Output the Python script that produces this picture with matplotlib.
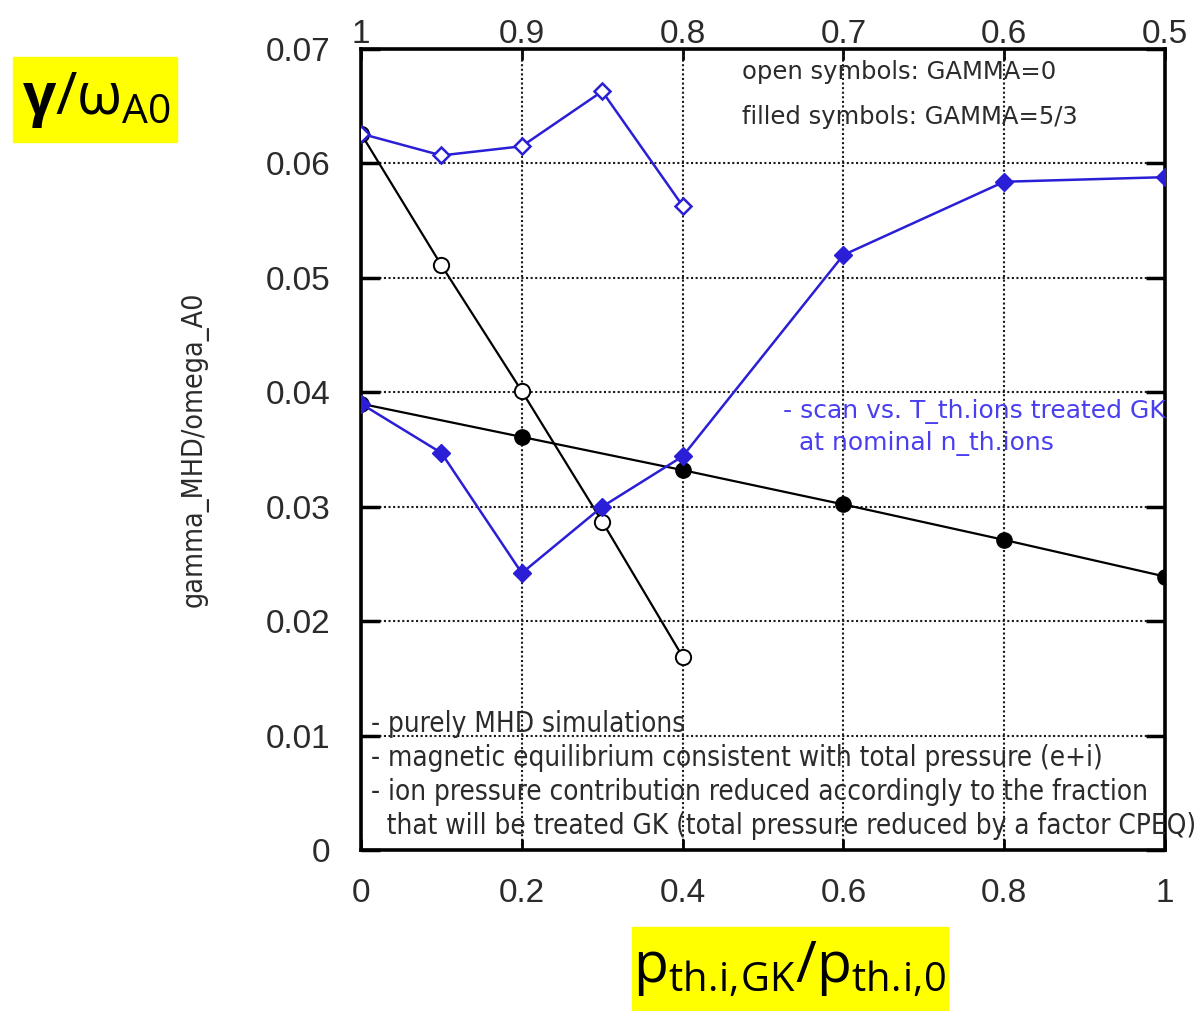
import matplotlib
matplotlib.use('Agg')
import matplotlib.pyplot as plt
from matplotlib.patches import Rectangle

# Growth rate scans vs. fraction of thermal ion pressure treated GK
frac_open = [0.0, 0.1, 0.2, 0.3, 0.4]
scanT_open = [0.0626, 0.0607, 0.0615, 0.0663, 0.0563]
mhd_open = [0.0626, 0.0511, 0.0401, 0.0287, 0.0169]

frac_scan_filled = [0.0, 0.1, 0.2, 0.3, 0.4, 0.6, 0.8, 1.0]
scanT_filled = [0.0390, 0.0347, 0.0242, 0.0300, 0.0344, 0.0520, 0.0584, 0.0588]

frac_mhd_filled = [0.0, 0.2, 0.4, 0.6, 0.8, 1.0]
mhd_filled = [0.0390, 0.0361, 0.0332, 0.0302, 0.0271, 0.0239]

xticks = [0, 0.2, 0.4, 0.6, 0.8, 1.0]
xtick_labels = ['0', '0.2', '0.4', '0.6', '0.8', '1']
top_ticks = [1.0, 0.9, 0.8, 0.7, 0.6, 0.5]
top_labels = ['1', '0.9', '0.8', '0.7', '0.6', '0.5']
yticks = [0, 0.01, 0.02, 0.03, 0.04, 0.05, 0.06, 0.07]
ytick_labels = ['0', '0.01', '0.02', '0.03', '0.04', '0.05', '0.06', '0.07']

BLUE = '#2a1fd6'
TXT = '#2b2b2b'
TICKFONT = 'Liberation Sans'

plt.rcParams['mathtext.fontset'] = 'custom'
plt.rcParams['mathtext.rm'] = 'Open Sans'
plt.rcParams['mathtext.it'] = 'Open Sans'
plt.rcParams['mathtext.bf'] = 'Open Sans:bold'

fig = plt.figure(figsize=(11.94, 10.11), dpi=100)
ax = fig.add_axes([361 / 1194, 1 - 850 / 1011, 804 / 1194, 801 / 1011])

# blue: scan vs T_th.ions
ax.plot(frac_scan_filled, scanT_filled, color=BLUE, lw=1.8, marker='D', ms=9,
        mfc=BLUE, mec=BLUE, zorder=4)
ax.plot(frac_open, scanT_open, color=BLUE, lw=1.8, marker='D', ms=8,
        mfc='white', mec=BLUE, mew=1.8, zorder=4)
# black: purely MHD
ax.plot(frac_mhd_filled, mhd_filled, color='black', lw=1.6, marker='o', ms=11,
        mfc='black', mec='black', zorder=3)
ax.plot(frac_open, mhd_open, color='black', lw=1.6, marker='o', ms=11,
        mfc='white', mec='black', mew=1.4, zorder=3)

ax.set_xlim(0, 1)
ax.set_ylim(0, 0.07)
ax.set_xticks(xticks, xtick_labels, family=TICKFONT)
ax.set_yticks(yticks, ytick_labels, family=TICKFONT)
ax.grid(True, color='#1a1a1a', lw=1.5, linestyle=(0, (1, 1.2)))
ax.set_axisbelow(True)
for s in ax.spines.values():
    s.set_linewidth(2.6)
ax.tick_params(axis='y', direction='in', length=14, width=2.5, left=True,
               right=True, labelsize=24, pad=22, labelcolor=TXT)
ax.tick_params(axis='x', direction='in', length=8, width=2, top=False,
               labelsize=24, pad=20, labelcolor=TXT)

sec = ax.secondary_xaxis('top', functions=(lambda x: 1 - x / 2, lambda t: 2 * (1 - t)))
sec.set_xticks(top_ticks, top_labels, family=TICKFONT)
sec.tick_params(direction='in', length=8, width=2, labelsize=24, pad=-1,
                labelcolor=TXT)

ax.set_ylabel('gamma_MHD/omega_A0', family='DejaVu Sans', fontstretch='condensed',
              fontsize=20.5, color=TXT)
ax.yaxis.set_label_coords(-0.19, 0.50)

fig.text(742 / 1194, 1 - 72 / 1011, 'open symbols: GAMMA=0', fontsize=17.5,
         color=TXT, va='center', ha='left')
fig.text(742 / 1194, 1 - 117 / 1011, 'filled symbols: GAMMA=5/3', fontsize=17.5,
         color=TXT, va='center', ha='left')

ax.text(0.525, 0.0383, '- scan vs. T_th.ions treated GK', fontsize=18,
        color='#4a3ff0', va='center', ha='left')
ax.text(0.545, 0.0355, 'at nominal n_th.ions', fontsize=18,
        color='#4a3ff0', va='center', ha='left')

notes = ['- purely MHD simulations',
         '- magnetic equilibrium consistent with total pressure (e+i)',
         '- ion pressure contribution reduced accordingly to the fraction',
         '  that will be treated GK (total pressure reduced by a factor CPEQ)']
for i, line in enumerate(notes):
    ax.text(0.012, 0.0110 - i * 0.00297, line, family='DejaVu Sans',
            fontstretch='condensed', fontsize=20, color=TXT, va='center', ha='left')

# highlighted axis titles
fig.patches.append(Rectangle((13 / 1194, 1 - 142 / 1011), 164 / 1194, 85 / 1011,
                             transform=fig.transFigure, color='#ffff00', zorder=0))
fig.text(96 / 1194, 1 - 100 / 1011, r'$\mathbf{\gamma}/\omega_{\mathrm{A0}}$',
         fontsize=42, ha='center', va='center', color='black')

fig.patches.append(Rectangle((632 / 1194, 0), 316 / 1194, 84 / 1011,
                             transform=fig.transFigure, color='#ffff00', zorder=0))
fig.text(790 / 1194, 1 - 968 / 1011,
         r'$\mathrm{p_{th.\!i,\!GK}/p_{th.\!i,\!0}}$',
         fontsize=41, ha='center', va='center', color='black')

fig.savefig('out.png', dpi=100)
